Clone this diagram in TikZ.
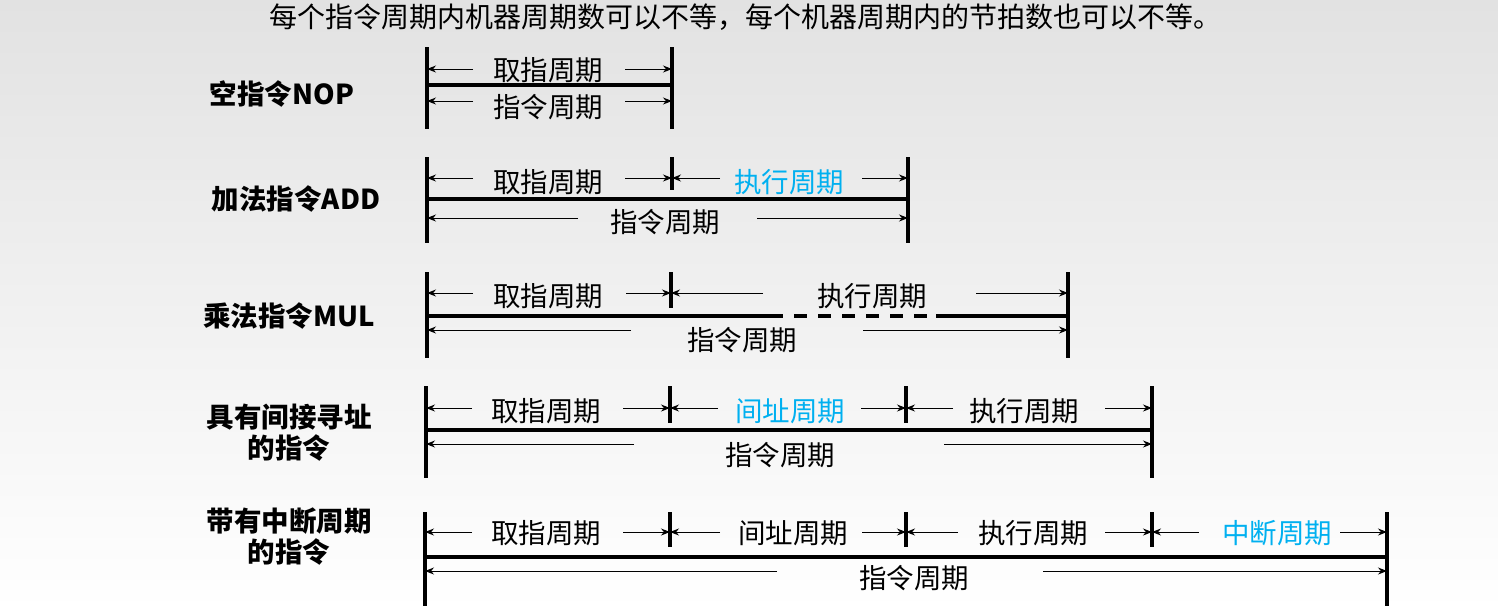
\documentclass[tikz,border=0pt]{standalone}
\usepackage{fontspec}
\setmainfont{Noto Sans CJK SC}
\usepackage{xcolor}
\usetikzlibrary{arrows.meta}
\definecolor{cycink}{HTML}{000000}
\definecolor{cycblue}{HTML}{00B0F0}
\definecolor{cyctop}{HTML}{E2E2E2}

\begin{document}
\begin{tikzpicture}[x=1pt, y=-1pt, >={Stealth[length=9pt,width=7pt]},
                    every node/.style={cycink, inner sep=0pt},
                    rowlab/.style={font=\fontsize{27.5}{31}\selectfont\bfseries, align=center},
                    cyc/.style={font=\fontsize{27.5}{31}\selectfont},
                    tick/.style={cycink, line width=3.5pt},
                    bar/.style={cycink, line width=4pt},
                    arr/.style={cycink, line width=1pt, ->}]

  %% 背景
  \useasboundingbox (0,0) rectangle (1498,611);
  \shade[top color=cyctop, bottom color=white] (0,0) rectangle (1498,611);

  %% 标题
  \node[font=\fontsize{28}{32}\selectfont] (title) at (745,17)
    {每个指令周期内机器周期数可以不等，每个机器周期内的节拍数也可以不等。};

  %% 空指令 NOP
  \node[rowlab] (nop) at (282,94) {空指令NOP};
  \foreach \x in {427,672}
    \draw[tick] (\x,47) -- (\x,129);
  \draw[bar] (427,85) -- (672,85);
  \foreach \nm/\xl/\xr/\le/\rs/\lx/\ay/\ly/\txt/\col in {
      nopf/427/672/473/625/548/69/70/取指周期/cycink,
      nopi/427/672/473/625/548/101/107/指令周期/cycink}{
    \coordinate (\nm-a) at (\xl,\ay);
    \coordinate (\nm-b) at (\xr,\ay);
    \coordinate (\nm-c) at (\le,\ay);
    \coordinate (\nm-d) at (\rs,\ay);
    \node[cyc, text=\col] (\nm) at (\lx,\ly) {\txt};
    \draw[arr] (\nm-c) -- (\nm-a);
    \draw[arr] (\nm-d) -- (\nm-b);
  }

  %% 加法指令 ADD
  \node[rowlab] (add) at (296,199) {加法指令ADD};
  \foreach \x/\b in {427/243,672/190,908/243}
    \draw[tick] (\x,157) -- (\x,\b);
  \draw[bar] (427,199) -- (908,199);
  \foreach \nm/\xl/\xr/\le/\rs/\lx/\ay/\ly/\txt/\col in {
      addf/427/672/473/625/548/178/182/取指周期/cycink,
      adde/672/908/720/862/789/178/182/执行周期/cycblue,
      addi/427/908/578/757/665/218/222/指令周期/cycink}{
    \coordinate (\nm-a) at (\xl,\ay);
    \coordinate (\nm-b) at (\xr,\ay);
    \coordinate (\nm-c) at (\le,\ay);
    \coordinate (\nm-d) at (\rs,\ay);
    \node[cyc, text=\col] (\nm) at (\lx,\ly) {\txt};
    \draw[arr] (\nm-c) -- (\nm-a);
    \draw[arr] (\nm-d) -- (\nm-b);
  }

  %% 乘法指令 MUL: 执行周期中段为虚线
  \node[rowlab] (mul) at (289,316) {乘法指令MUL};
  \foreach \x/\b in {427/358,671/308,1068/358}
    \draw[tick] (\x,272) -- (\x,\b);
  \draw[bar] (427,316) -- (783,316);
  \draw[bar, dash pattern=on 13pt off 11pt] (794,316) -- (927,316);
  \draw[bar] (936,316) -- (1068,316);
  \foreach \nm/\xl/\xr/\le/\rs/\lx/\ay/\ly/\txt/\col in {
      mulf/427/671/473/626/548/293/296/取指周期/cycink,
      mule/671/1068/763/976/872/293/296/执行周期/cycink,
      muli/427/1068/631/863/742/330/340/指令周期/cycink}{
    \coordinate (\nm-a) at (\xl,\ay);
    \coordinate (\nm-b) at (\xr,\ay);
    \coordinate (\nm-c) at (\le,\ay);
    \coordinate (\nm-d) at (\rs,\ay);
    \node[cyc, text=\col] (\nm) at (\lx,\ly) {\txt};
    \draw[arr] (\nm-c) -- (\nm-a);
    \draw[arr] (\nm-d) -- (\nm-b);
  }

  %% 具有间接寻址的指令
  \node[rowlab] (ind) at (289,433) {具有间接寻址\\的指令};
  \foreach \x/\b in {426/478,670/423,906/423,1152/478}
    \draw[tick] (\x,386) -- (\x,\b);
  \draw[bar] (426,430) -- (1152,430);
  \foreach \nm/\xl/\xr/\le/\rs/\lx/\ay/\ly/\txt/\col in {
      indf/426/670/472/623/546/408/411/取指周期/cycink,
      inda/670/906/718/861/790/408/411/间址周期/cycblue,
      inde/906/1152/953/1105/1024/408/411/执行周期/cycink,
      indi/426/1152/634/944/780/444/455/指令周期/cycink}{
    \coordinate (\nm-a) at (\xl,\ay);
    \coordinate (\nm-b) at (\xr,\ay);
    \coordinate (\nm-c) at (\le,\ay);
    \coordinate (\nm-d) at (\rs,\ay);
    \node[cyc, text=\col] (\nm) at (\lx,\ly) {\txt};
    \draw[arr] (\nm-c) -- (\nm-a);
    \draw[arr] (\nm-d) -- (\nm-b);
  }

  %% 带有中断周期的指令
  \node[rowlab] (irq) at (289,537) {带有中断周期\\的指令};
  \foreach \x/\b in {425/606,670/547,906/547,1152/547,1387/606}
    \draw[tick] (\x,512) -- (\x,\b);
  \draw[bar] (425,557) -- (1387,557);
  \foreach \nm/\xl/\xr/\le/\rs/\lx/\ay/\ly/\txt/\col in {
      irqf/425/670/472/623/546/532/533/取指周期/cycink,
      irqa/670/906/720/862/793/532/533/间址周期/cycink,
      irqe/906/1152/958/1105/1033/532/533/执行周期/cycink,
      irqt/1152/1387/1199/1340/1277/532/533/中断周期/cycblue,
      irqi/425/1387/777/1043/914/571/578/指令周期/cycink}{
    \coordinate (\nm-a) at (\xl,\ay);
    \coordinate (\nm-b) at (\xr,\ay);
    \coordinate (\nm-c) at (\le,\ay);
    \coordinate (\nm-d) at (\rs,\ay);
    \node[cyc, text=\col] (\nm) at (\lx,\ly) {\txt};
    \draw[arr] (\nm-c) -- (\nm-a);
    \draw[arr] (\nm-d) -- (\nm-b);
  }

\end{tikzpicture}
\end{document}
